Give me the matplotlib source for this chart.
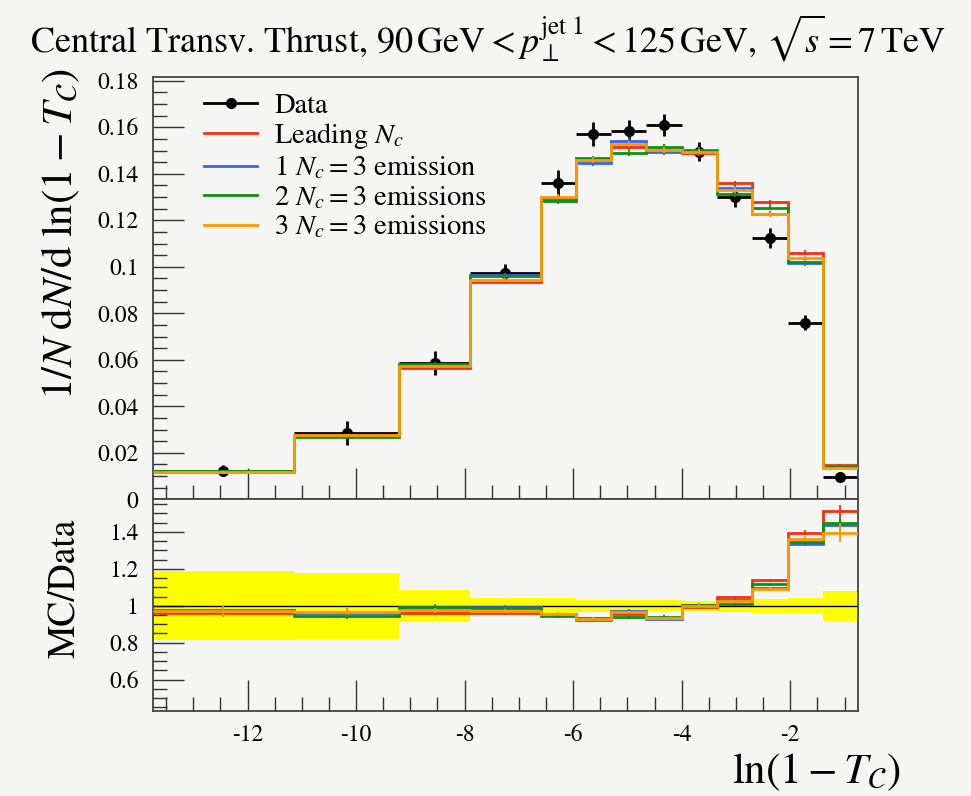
import numpy as np
import matplotlib.pyplot as plt
from matplotlib.lines import Line2D
from matplotlib.ticker import MultipleLocator, FuncFormatter

plt.rcParams['font.family'] = 'serif'
plt.rcParams['font.serif'] = ['STIXGeneral', 'Liberation Serif', 'DejaVu Serif']
plt.rcParams['mathtext.fontset'] = 'stix'

# bin edges in ln(1 - T_C)
edges = np.array([-13.75, -11.15, -9.2, -7.9, -6.6, -5.95, -5.3, -4.65,
                  -4.0, -3.35, -2.7, -2.05, -1.4, -0.75])

data = np.array([0.0123, 0.0284, 0.0585, 0.0972, 0.1359, 0.1570, 0.1584,
                 0.1610, 0.1495, 0.1299, 0.1123, 0.0760, 0.0097])
data_err = np.array([0.0023, 0.0051, 0.0051, 0.0040, 0.0056, 0.0052, 0.0048,
                     0.0046, 0.0040, 0.0041, 0.0042, 0.0031, 0.0008])

leading_nc = np.array([0.01183, 0.02749, 0.05628, 0.09351, 0.12965, 0.14600, 0.15143,
                       0.15037, 0.14875, 0.13588, 0.12768, 0.10610, 0.01468])
one_emission = np.array([0.01199, 0.02724, 0.05786, 0.09652, 0.12897, 0.14475, 0.15428,
                         0.14957, 0.15025, 0.13406, 0.12286, 0.10154, 0.01394])
two_emissions = np.array([0.01205, 0.02681, 0.05821, 0.09623, 0.12829, 0.14664, 0.14874,
                          0.15134, 0.14995, 0.13120, 0.12533, 0.10222, 0.01407])
three_emissions = np.array([0.01194, 0.02749, 0.05715, 0.09438, 0.13020, 0.14585, 0.15286,
                            0.15005, 0.14950, 0.13302, 0.12263, 0.10366, 0.01354])

leading_nc_err = np.array([0.0003, 0.0005, 0.0008, 0.0010, 0.0012, 0.0012, 0.0013,
                           0.0013, 0.0012, 0.0012, 0.0011, 0.0010, 0.0003])
one_emission_err = np.array([0.0003, 0.0005, 0.0008, 0.0010, 0.0012, 0.0012, 0.0013,
                             0.0013, 0.0012, 0.0012, 0.0011, 0.0010, 0.0003])
two_emissions_err = np.array([0.0003, 0.0005, 0.0008, 0.0010, 0.0012, 0.0012, 0.0013,
                              0.0013, 0.0012, 0.0012, 0.0011, 0.0010, 0.0003])
three_emissions_err = np.array([0.0004, 0.0005, 0.0008, 0.0010, 0.0012, 0.0012, 0.0013,
                                0.0013, 0.0012, 0.0012, 0.0011, 0.0010, 0.0005])

mc = [
    (r'Leading $N_c$', leading_nc, leading_nc_err, '#ee3311'),
    (r'1 $N_c = 3$ emission', one_emission, one_emission_err, '#3366ee'),
    (r'2 $N_c = 3$ emissions', two_emissions, two_emissions_err, '#109010'),
    (r'3 $N_c = 3$ emissions', three_emissions, three_emissions_err, '#ff9900'),
]

centers = 0.5 * (edges[1:] + edges[:-1])
halfw = 0.5 * (edges[1:] - edges[:-1])
bg = '#f5f5f4'

fig = plt.figure(figsize=(9.71, 7.96), dpi=100, facecolor=bg)
ax1 = fig.add_axes([0.1571, 0.3727, 0.7266, 0.5305], facecolor=bg)
ax2 = fig.add_axes([0.1571, 0.1068, 0.7266, 0.2660], facecolor=bg, sharex=ax1)

# main panel
ax1.errorbar(centers, data, xerr=halfw, yerr=data_err, fmt='o', color='black',
             ms=7, lw=2, capsize=0, zorder=2)
handles = [Line2D([], [], color='black', lw=2, marker='o', ms=7)]
labels = ['Data']
for label, vals, err, col in mc:
    ax1.stairs(vals, edges, baseline=None, color=col, lw=2, zorder=3)
    ax1.vlines(centers, vals - err, vals + err, color=col, lw=1.3, zorder=3)
    handles.append(Line2D([], [], color=col, lw=2))
    labels.append(label)

ax1.set_xlim(edges[0], edges[-1])
ax1.set_ylim(0, 0.1816)
ax1.yaxis.set_major_locator(MultipleLocator(0.02))
ax1.yaxis.set_minor_locator(MultipleLocator(0.005))
ax1.yaxis.set_major_formatter(FuncFormatter(lambda v, p: '%g' % round(v, 3)))
ax1.tick_params(labelbottom=False)
ax1.set_ylabel(r'$1/N\;\mathrm{d}N/\mathrm{d}\;\ln(1-T_{\mathcal{C}})$', fontsize=31, loc='top')
ax1.yaxis.set_label_coords(-0.100, 1.02)

ax1.legend(handles, labels, loc='upper left', bbox_to_anchor=(0.057, 0.99), frameon=False,
           fontsize=20.5, handlelength=1.87, handletextpad=0.6, labelspacing=0.1, borderaxespad=0)

# ratio panel
band = data_err / data
ax2.stairs(1 + band, edges, baseline=1 - band, fill=True, color='#ffff00', lw=0, zorder=1)
ax2.axhline(1, color='black', lw=1, zorder=2)
for label, vals, err, col in mc:
    r = vals / data
    ax2.stairs(r, edges, baseline=None, color=col, lw=2, zorder=3)
    ax2.vlines(centers, r - err / data, r + err / data, color=col, lw=1.3, zorder=3)

ax2.set_ylim(0.43, 1.577)
ax2.yaxis.set_major_locator(MultipleLocator(0.2))
ax2.yaxis.set_minor_locator(MultipleLocator(0.05))
ax2.yaxis.set_major_formatter(FuncFormatter(lambda v, p: '%g' % round(v, 2)))
ax2.xaxis.set_major_locator(MultipleLocator(2))
ax2.xaxis.set_minor_locator(MultipleLocator(0.5))
ax2.xaxis.set_major_formatter(FuncFormatter(lambda v, p: '%g' % v))
ax2.set_ylabel('MC/Data', fontsize=27, loc='top')
ax2.yaxis.set_label_coords(-0.100, 0.91)
ax2.set_xlabel(r'$\ln(1-T_{\mathcal{C}})$', fontsize=31, loc='right')
ax2.xaxis.set_label_coords(1.06, -0.19)

for ax in (ax1, ax2):
    ax.tick_params(which='both', direction='in', top=False, right=False,
                   labelsize=17, pad=10, color='#333333')
    ax.tick_params(which='major', length=22, width=1)
    ax.tick_params(which='minor', length=10, width=1)
    for s in ax.spines.values():
        s.set_color('#444444')
        s.set_linewidth(1.3)

fig.text(0.502, 1 - 38 / 796,
         r'Central Transv. Thrust, $90\,\mathrm{GeV} < p_\perp^{\mathrm{jet\ 1}} < 125\,\mathrm{GeV}$, '
         r'$\sqrt{s} = 7\,\mathrm{TeV}$',
         ha='center', va='center', fontsize=26)

fig.savefig('out.png', dpi=100, facecolor=bg)
